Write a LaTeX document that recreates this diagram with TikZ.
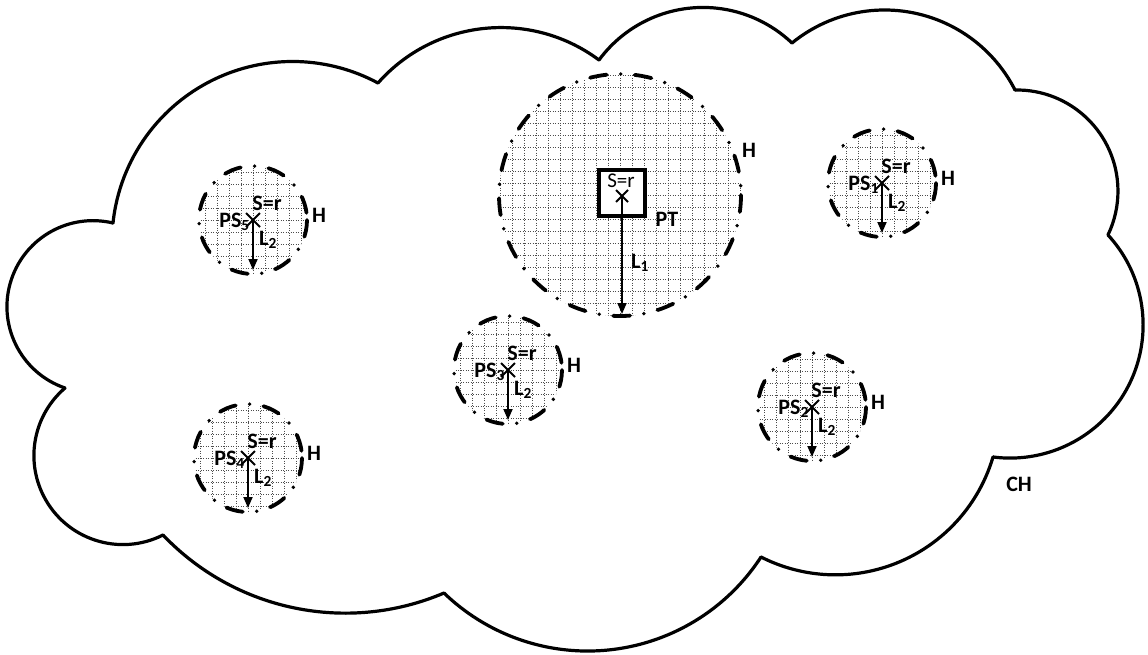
\documentclass[tikz,border=0pt]{standalone}
\usepackage{fontspec}
\setmainfont{Carlito}
\usetikzlibrary{calc,arrows.meta}
\newcommand\cldarc[6]{%
  \pgfmathsetmacro\cXa{#1/100}\pgfmathsetmacro\cYa{#2/100}%
  \pgfmathsetmacro\cXb{#3/100}\pgfmathsetmacro\cYb{#4/100}%
  \pgfmathsetmacro\cXc{#5/100}\pgfmathsetmacro\cYc{#6/100}%
  \pgfmathsetmacro\cSa{(\cXa)*(\cXa)+(\cYa)*(\cYa)}%
  \pgfmathsetmacro\cSb{(\cXb)*(\cXb)+(\cYb)*(\cYb)}%
  \pgfmathsetmacro\cSc{(\cXc)*(\cXc)+(\cYc)*(\cYc)}%
  \pgfmathsetmacro\cDD{2*((\cXa)*((\cYb)-(\cYc))+(\cXb)*((\cYc)-(\cYa))+(\cXc)*((\cYa)-(\cYb)))}%
  \pgfmathsetmacro\cUx{((\cSa)*((\cYb)-(\cYc))+(\cSb)*((\cYc)-(\cYa))+(\cSc)*((\cYa)-(\cYb)))/(\cDD)}%
  \pgfmathsetmacro\cUy{((\cSa)*((\cXc)-(\cXb))+(\cSb)*((\cXa)-(\cXc))+(\cSc)*((\cXb)-(\cXa)))/(\cDD)}%
  \pgfmathsetmacro\cRR{100*veclen((\cXa)-(\cUx),(\cYa)-(\cUy))}%
  \pgfmathsetmacro\cAa{atan2((\cYa)-(\cUy),(\cXa)-(\cUx))}%
  \pgfmathsetmacro\cAb{atan2((\cYb)-(\cUy),(\cXb)-(\cUx))}%
  \pgfmathsetmacro\cAc{atan2((\cYc)-(\cUy),(\cXc)-(\cUx))}%
  \pgfmathsetmacro\cDb{Mod((\cAb)-(\cAa),360)}%
  \pgfmathsetmacro\cDc{Mod((\cAc)-(\cAa),360)}%
  \pgfmathsetmacro\cAe{(\cDb)<(\cDc) ? (\cAa)+(\cDc) : (\cAa)+(\cDc)-360}%
  \draw[cloudline] (#1,#2) arc[start angle=\cAa, end angle=\cAe, radius=\cRR];%
}
\begin{document}
\begin{tikzpicture}[x=1pt,y=-1pt,
  cloudline/.style={line width=3.2pt, line cap=round, line join=round},
  hborder/.style={line width=3.8pt, line cap=round, dash pattern=on 17pt off 14pt on 0pt off 14pt},
  gridln/.style={black!70, line width=1pt, dash pattern=on 1pt off 1.5pt},
  lbl/.style={font=\fontsize{22}{24}\selectfont\bfseries, inner sep=0pt},
  arr/.style={line width=1.8pt, -{Triangle[length=11pt,width=9pt]}},
  xmk/.style={line width=1.8pt}]
\useasboundingbox (0,0) rectangle (1148,654);
% cloud CH
\cldarc{113}{223}{200}{87}{378}{83}
\cldarc{378}{83}{513}{28}{599}{60}
\cldarc{599}{60}{691}{8}{792}{43}
\cldarc{792}{43}{886}{10}{1015}{90}
\cldarc{1015}{90}{1117}{177}{1108}{235}
\cldarc{1108}{235}{1143}{320}{993}{457}
\cldarc{993}{457}{860}{573}{761}{557}
\cldarc{761}{557}{590}{651}{444}{593}
\cldarc{444}{593}{337}{613}{163}{535}
\cldarc{163}{535}{34}{460}{65}{388}
\cldarc{65}{388}{8}{320}{113}{223}
\node[lbl] (ch) at (1019,484) {CH};
% big hub
\coordinate (bigc) at (620,195);
\begin{scope}
  \clip (bigc) circle[radius=121];
  \foreach \i in {-10,...,10} {
    \draw[gridln] ($(bigc)+(\i*12,-125)$) -- ++(0,250);
    \draw[gridln] ($(bigc)+(-125,\i*12)$) -- ++(250,0);
  }
\end{scope}
\draw[hborder] (bigc) circle[radius=121];
\node[draw, line width=4pt, minimum size=46pt, inner sep=0pt, fill=white] (ptbox) at (622,193) {};
\node[lbl, font=\fontsize{21}{22}\selectfont] (pts) at (621,181) {S=r};
\coordinate (ptx) at (622,196);
\draw[xmk] ($(ptx)+(-6,-6)$) -- ($(ptx)+(6,6)$);
\draw[xmk] ($(ptx)+(-6,6)$) -- ($(ptx)+(6,-6)$);
\coordinate (ptb) at (622,314);
\draw[arr] (ptx) -- (ptb);
\node[lbl] (ptl) at (667,219) {PT};
\node[lbl] (l1) at (640,263) {L\textsubscript{1}};
\node[lbl] (bigh) at (749,150) {H};
% small hubs
\foreach \nm/\cx/\cy/\k in {ps1/882/183/1, ps2/812/407/2, ps3/508/370/3, ps4/248/458/4, ps5/253/220/5} {
  \coordinate (\nm) at (\cx,\cy);
  \begin{scope}
    \clip (\nm) circle[radius=54];
    \foreach \i in {-5,...,5} {
      \draw[gridln] ($(\nm)+(\i*12,-60)$) -- ++(0,120);
      \draw[gridln] ($(\nm)+(-60,\i*12)$) -- ++(120,0);
    }
  \end{scope}
  \draw[hborder] (\nm) circle[radius=54];
  \draw[xmk] ($(\nm)+(-7,-7)$) -- ($(\nm)+(7,7)$);
  \draw[xmk] ($(\nm)+(-7,7)$) -- ($(\nm)+(7,-7)$);
  \coordinate (\nm-b) at ($(\nm)+(0,50)$);
  \draw[arr] (\nm) -- (\nm-b);
  \node[lbl] (\nm-s) at ($(\nm)+(14,-17)$) {S=r};
  \node[lbl, anchor=east] (\nm-p) at ($(\nm)+(-3,2)$) {PS\textsubscript{\k}};
  \node[lbl] (\nm-l) at ($(\nm)+(15,20)$) {L\textsubscript{2}};
  \node[lbl] (\nm-h) at ($(\nm)+(66,-5)$) {H};
}
\end{tikzpicture}
\end{document}
